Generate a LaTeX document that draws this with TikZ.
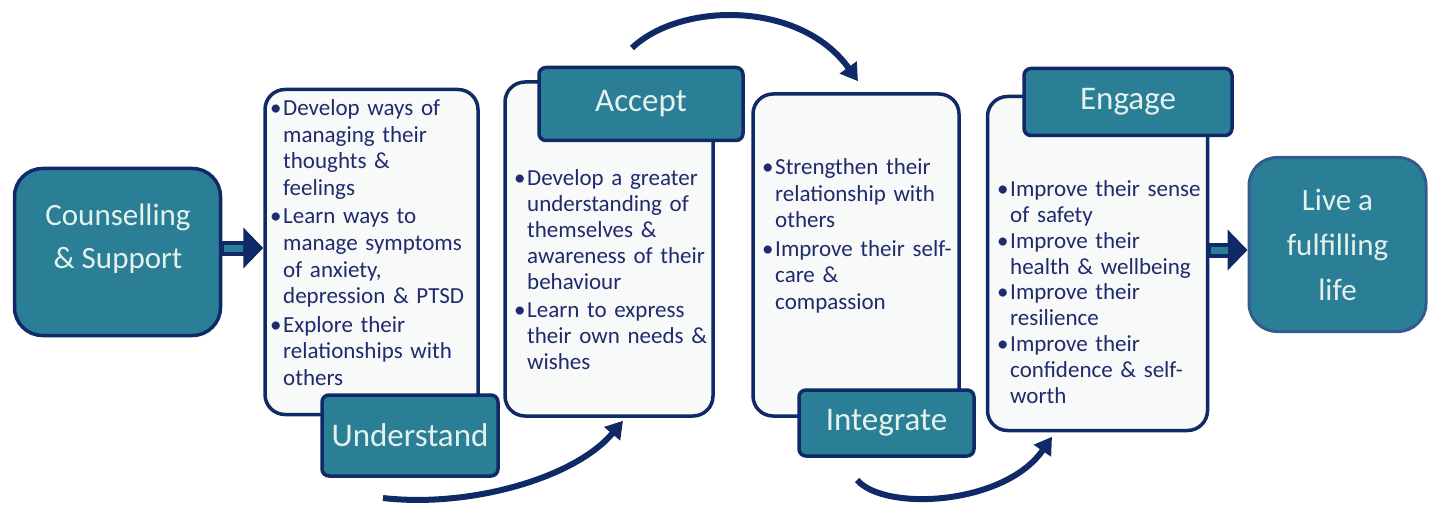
\documentclass[tikz,border=0pt]{standalone}
\usepackage{fontspec}
\setmainfont{Carlito}
\usetikzlibrary{arrows.meta,calc}
\definecolor{Navy}{HTML}{102A68}
\definecolor{Teal}{HTML}{2A7F97}
\definecolor{Paper}{HTML}{F8F9F9}
\definecolor{Pale}{HTML}{E4F1EC}
\definecolor{Ink}{HTML}{1F2B6C}
\definecolor{Steel}{HTML}{335C8E}
\newcommand{\bul}{\par\hangindent=13pt\hangafter=1\noindent\makebox[13pt][l]{\textbullet}}

\begin{document}
\begin{tikzpicture}[x=1pt,y=-1pt,
    card/.style={draw=Navy,line width=3.5pt,fill=Paper,rounded corners=20pt},
    tab/.style={draw=Navy,line width=3.5pt,fill=Teal,rounded corners=7pt,text=Pale,
      font=\fontsize{33}{40}\selectfont,inner sep=0pt},
    hub/.style={line width=3.5pt,fill=Teal,rounded corners=28pt,text=Pale,align=center,
      font=\fontsize{31}{45}\selectfont,inner sep=0pt},
    body/.style={text=Ink,font=\fontsize{23}{26.6}\selectfont\setlength{\parskip}{2pt},
      text width=215pt,align=left,inner sep=0pt,anchor=base west},
    swoop/.style={draw=Navy,line width=6pt,-{Triangle[length=17pt,width=20pt]}},
    fat/.style={draw=Navy,line width=15pt,-{Triangle[length=20pt,width=40pt]}},
    fatcore/.style={draw=Teal,line width=7pt,shorten <=2pt,shorten >=20pt}]
  \useasboundingbox (0,0) rectangle (1429,505);

  \node[hub,draw=Navy,minimum width=206pt,minimum height=167pt] (cs) at (117.5,252) {};
  \node[text=Pale,align=center,font=\fontsize{31}{43}\selectfont] (cst) at (118,239) {Counselling\\\& Support};
  \node[hub,draw=Steel,line width=3pt,minimum width=177pt,minimum height=174pt] (live) at (1337.5,244.5)
    {Live a\\fulfilling\\life};

  \node[card,minimum width=213pt,minimum height=325pt] (c1) at (371.5,252) {};
  \node[card,minimum width=208pt,minimum height=334pt] (c2) at (609,249) {};
  \node[card,minimum width=206pt,minimum height=322pt] (c3) at (856,255) {};
  \node[card,minimum width=220pt,minimum height=334pt] (c4) at (1097.5,263.5) {};

  \node[tab,minimum width=176pt,minimum height=81pt] (und) at (410,435.5) {Understand};
  \node[tab,minimum width=204pt,minimum height=73pt] (acc) at (641,104) {Accept};
  \node[tab,minimum width=175pt,minimum height=66pt] (int) at (886.5,423) {Integrate};
  \node[tab,minimum width=208pt,minimum height=67pt] (eng) at (1128,102) {Engage};

  \node[body] (t1) at (270,87) {\bul Develop ways of\newline managing their\newline thoughts \&\newline feelings
    \bul Learn ways to\newline manage symptoms\newline of anxiety,\newline depression \& PTSD
    \bul Explore their\newline relationships with\newline others\par};
  \node[body,font=\fontsize{23}{26}\selectfont\setlength{\parskip}{2pt}] (t2) at (514,158)
    {\bul Develop a greater\newline understanding of\newline themselves \&\newline awareness of their\newline behaviour
    \bul Learn to express\newline their own needs \&\newline wishes\par};
  \node[body] (t3) at (762,146) {\bul Strengthen their\newline relationship with\newline others
    \bul Improve their self-\newline care \&\newline compassion\par};
  \node[body,font=\fontsize{23}{25.8}\selectfont\setlength{\parskip}{0pt}] (t4) at (997,171)
    {\bul Improve their sense\newline of safety
    \bul Improve their\newline health \& wellbeing
    \bul Improve their\newline resilience
    \bul Improve their\newline confidence \& self-\newline worth\par};

  \draw[fat] (cs.east |- 0,248) -- (c1.west |- 0,248);
  \draw[fatcore] (cs.east |- 0,248) -- (c1.west |- 0,248);
  \draw[fat] (c4.east |- 0,250) -- (live.west |- 0,250);
  \draw[fatcore] (c4.east |- 0,250) -- (live.west |- 0,250);

  \coordinate (s1) at (383,498);
  \coordinate (s2) at (632,48);
  \coordinate (s3) at (857,480);
  \draw[swoop] (s1) .. controls (470,508) and (575,478) .. ($(c2.south)+(14,3)$);
  \draw[swoop] (s2) .. controls (680,2) and (800,0) .. ($(c3.north)+(2,-11)$);
  \draw[swoop] (s3) .. controls (885,512) and (1005,505) .. ($(c4.south)+(-45.5,4.5)$);
\end{tikzpicture}
\end{document}
